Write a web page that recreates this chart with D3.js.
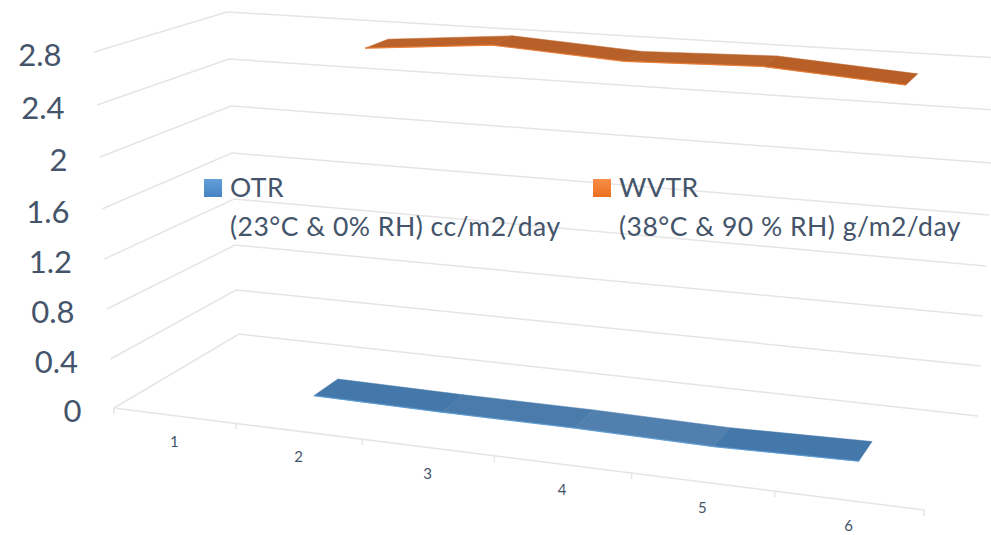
<!DOCTYPE html>
<html><head><meta charset="utf-8">
<script src="https://cdnjs.cloudflare.com/ajax/libs/d3/7.8.5/d3.min.js"></script>
<style>html,body{margin:0;padding:0;background:#fff}svg{display:block}text{font-family:Lato,sans-serif;fill:#44546a}</style>
</head><body><svg id="c" width="991" height="535"></svg>
<script>
const categories = [1, 2, 3, 4, 5, 6];
const valueTicks = [0, 0.4, 0.8, 1.2, 1.6, 2, 2.4, 2.8];
const otrValues  = [null, 0.19, 0.18, 0.18, 0.165, 0.185];
const wvtrValues = [null, 2.71, 2.80, 2.74, 2.77, 2.70];
const legendOtr  = ["OTR", "(23°C & 0% RH) cc/m2/day"];
const legendWvtr = ["WVTR", "(38°C & 90 % RH) g/m2/day"];

const svg = d3.select("#c");
const defs = svg.append("defs");
function grad(id, a, b){
  const g = defs.append("linearGradient").attr("id", id).attr("x1",0).attr("y1",0).attr("x2",0).attr("y2",1);
  g.append("stop").attr("offset",0).attr("stop-color",a);
  g.append("stop").attr("offset",1).attr("stop-color",b);
}
grad("gOtr", "#639fd8", "#4584c4");
grad("gWvtr", "#f58e46", "#ec7020");

// Projection of the 3-D box: each vertical edge of the box is a pair of scales over the value
const edge = (xs, ys) => ({x:d3.scaleLinear().domain(valueTicks).range(xs), y:d3.scaleLinear().domain(valueTicks).range(ys)});
const frontLeft  = edge([114,110.5,107,104.5,102,100,97,94],   [408,359,309,259,209,157,105,52]);
const backLeft   = edge([239,236,235,234,232,231,229,227],     [334,290,245,199,153,106,59,12]);
const backRight  = edge([978,981,983,986,989,992,995,998],     [416,366,316,266,215,163,110,58]);
const frontRight = edge([924,927,930,933,936,939,942,946],     [510,453,397,341,284,228,171,114]);

// Foreshortening along the category axis
const persp = 1.13;
const catScale = d3.scaleLinear().domain([0.5, categories.length + 0.5]).range([0, 1]);
const along = c => { const s = catScale(c); return s / (s + (1 - s) * persp); };

function project(c, depth, v){
  const f = along(c);
  const mix = k => {
    const fr = d3.interpolateNumber(frontLeft[k](v), frontRight[k](v))(f);
    const bk = d3.interpolateNumber(backLeft[k](v), backRight[k](v))(f);
    return d3.interpolateNumber(fr, bk)(depth);
  };
  return [mix("x"), mix("y")];
}

// Gridlines on the side and back walls
const gridColor = "#e5e5e5";
const path = d3.line();
svg.append("g").selectAll("path").data(valueTicks).join("path")
  .attr("d", v => path([[frontLeft.x(v),frontLeft.y(v)],[backLeft.x(v),backLeft.y(v)],[backRight.x(v),backRight.y(v)]]))
  .attr("fill","none").attr("stroke",gridColor).attr("stroke-width",1.5);

// Category axis along the floor
const edges = d3.range(0.5, categories.length + 1, 1);
svg.append("path").attr("d", path([project(edges[0],0,0), project(edges[edges.length-1],0,0)]))
  .attr("stroke",gridColor).attr("stroke-width",1.5).attr("fill","none");
svg.append("g").selectAll("line").data(edges).join("line")
  .attr("x1", c => project(c,0,0)[0]).attr("y1", c => project(c,0,0)[1])
  .attr("x2", c => project(c,0,0)[0]).attr("y2", c => project(c,0,0)[1] + 6)
  .attr("stroke",gridColor).attr("stroke-width",1.5);
svg.append("g").selectAll("text").data(categories).join("text")
  .attr("x", c => project(c,0,0)[0]).attr("y", c => project(c,0,0)[1] + 31)
  .attr("text-anchor","middle").attr("font-size",15).text(d => d);

// Value labels
svg.append("g").selectAll("text").data(valueTicks).join("text")
  .attr("x", v => frontLeft.x(v) - 32.5).attr("y", v => frontLeft.y(v) + 14)
  .attr("text-anchor","end").attr("font-size",31).text(d => d);

// Ribbons
function ribbon(values, d0, d1, tops, edgeColor){
  const pts = categories.map((c,i) => ({c, v:values[i]})).filter(p => p.v != null);
  const segs = d3.pairs(pts);
  const g = svg.append("g");
  g.selectAll("path.top").data(segs).join("path").attr("class","top")
    .attr("d", ([a,b]) => path([project(a.c,d0,a.v),project(b.c,d0,b.v),project(b.c,d1,b.v),project(a.c,d1,a.v)]) + "Z")
    .attr("fill", (d,i) => tops[i % tops.length]).attr("stroke", (d,i) => tops[i % tops.length]).attr("stroke-width",0.5);
  g.append("path").attr("d", path(pts.map(p => project(p.c,d0,p.v))))
    .attr("fill","none").attr("stroke",edgeColor).attr("stroke-width",1.2).attr("stroke-opacity",0.85);
}
ribbon(otrValues, 0.15, 0.37, ["#4478ab","#4a7bab","#5180ae","#4477aa"], "#5b9bd5");
ribbon(wvtrValues, 0.67, 0.87, ["#bb622b","#b8602a","#b9632c","#b85f28"], "#ed7d31");

// Legend
function legend(x, lines, fill){
  svg.append("rect").attr("x",x).attr("y",179).attr("width",18).attr("height",18).attr("fill",`url(#${fill})`);
  svg.append("g").selectAll("text").data(lines).join("text")
    .attr("x",x+26).attr("y",(d,i) => 197 + i*39).attr("font-size",26.5).attr("letter-spacing",0.5).text(d => d);
}
legend(204, legendOtr, "gOtr");
legend(593, legendWvtr, "gWvtr");
</script></body></html>
